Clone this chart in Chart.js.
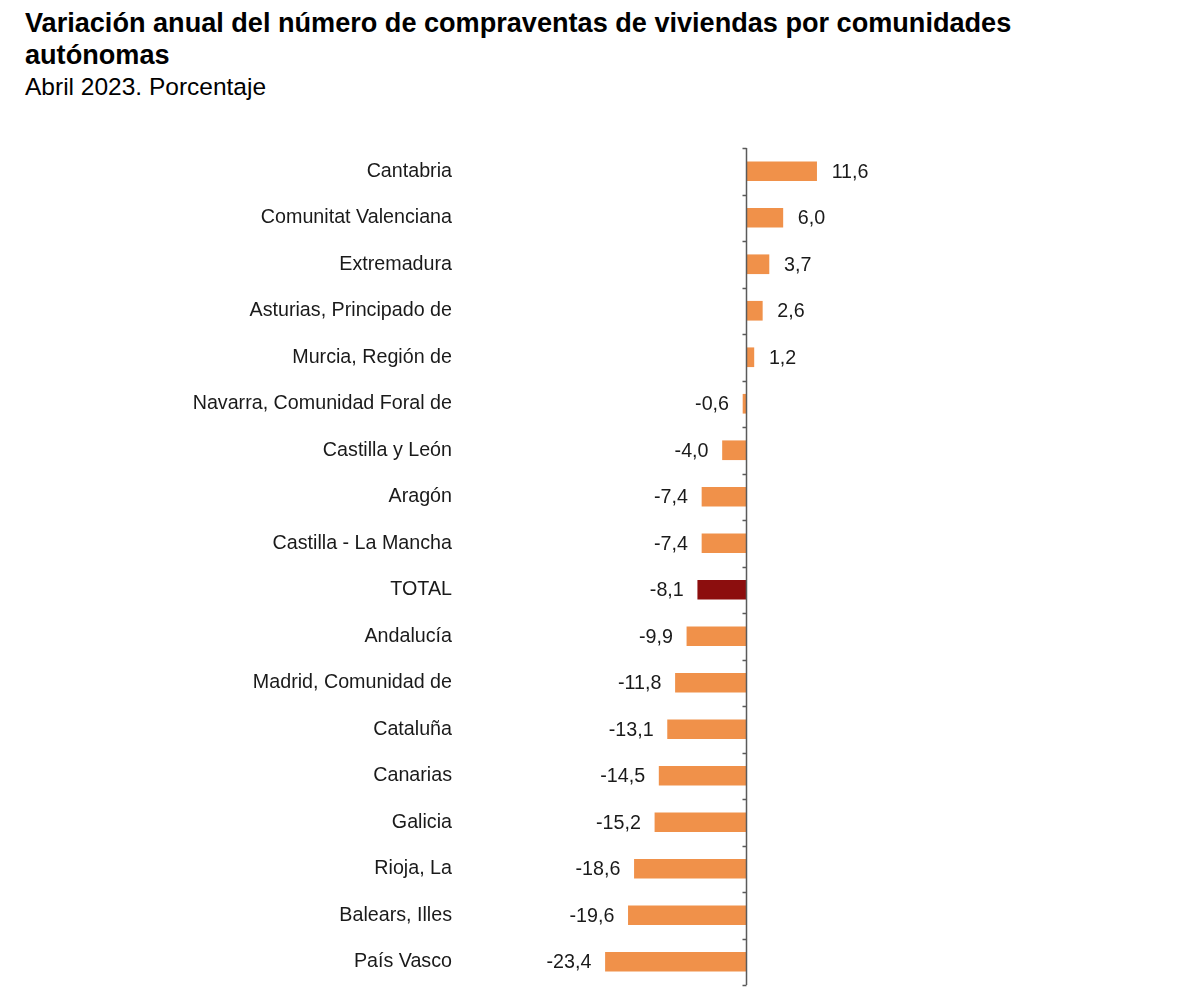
<!DOCTYPE html>
<html lang="es">
<head>
<meta charset="utf-8">
<title>Compraventas de viviendas por comunidades</title>
<script src="https://cdn.jsdelivr.net/npm/chart.js@4.4.1/dist/chart.umd.min.js"></script>
<style>
  html, body { margin: 0; padding: 0; background: #fff; }
  body { width: 1200px; height: 1007px; position: relative; overflow: hidden;
         font-family: "Liberation Sans", Arial, sans-serif; color: #000; }
  .title { position: absolute; left: 25px; top: 7px; font-size: 27.1px; font-weight: bold; line-height: 32px; }
  .subtitle { position: absolute; left: 25px; top: 72px; font-size: 24.5px; line-height: 30px; }
  #chart { position: absolute; left: 0; top: 0; }
</style>
</head>
<body>
<div class="title">Variación anual del número de compraventas de viviendas por comunidades<br>autónomas</div>
<div class="subtitle">Abril 2023. Porcentaje</div>
<canvas id="chart" width="1200" height="1007"></canvas>
<script>
// ─── Data ────────────────────────────────────────────────────
const regions = [
  'Cantabria', 'Comunitat Valenciana', 'Extremadura', 'Asturias, Principado de',
  'Murcia, Región de', 'Navarra, Comunidad Foral de', 'Castilla y León', 'Aragón',
  'Castilla - La Mancha', 'TOTAL', 'Andalucía', 'Madrid, Comunidad de',
  'Cataluña', 'Canarias', 'Galicia', 'Rioja, La', 'Balears, Illes', 'País Vasco'
];
const variation = [11.6, 6.0, 3.7, 2.6, 1.2, -0.6, -4.0, -7.4, -7.4, -8.1,
                   -9.9, -11.8, -13.1, -14.5, -15.2, -18.6, -19.6, -23.4];

const ORANGE = '#f0914a';
const TOTAL_RED = '#8c0e0e';
const FONT = '"Liberation Sans", Arial, sans-serif';

const barColors = regions.map((r) => (r === 'TOTAL' ? TOTAL_RED : ORANGE));
const fmt = (v) => v.toFixed(1).replace('.', ',');

// ─── Zero axis with category ticks ───────────────────────────
const zeroAxis = {
  id: 'zeroAxis',
  afterDatasetsDraw(chart) {
    const { ctx, chartArea, scales } = chart;
    const x0 = Math.round(scales.x.getPixelForValue(0)) - 0.5;
    ctx.save();
    ctx.strokeStyle = '#5a5a5a';
    ctx.lineWidth = 1.5;
    ctx.beginPath();
    ctx.moveTo(x0, chartArea.top);
    ctx.lineTo(x0, chartArea.bottom);
    for (let i = 0; i <= regions.length; i++) {
      const y = Math.round(scales.y.getPixelForValue(i - 0.5)) + 0.5;
      ctx.moveTo(x0 - 4, y);
      ctx.lineTo(x0, y);
    }
    ctx.stroke();
    ctx.restore();
  },
};

// ─── Value labels ────────────────────────────────────────────
const valueLabels = {
  id: 'valueLabels',
  afterDatasetsDraw(chart) {
    const { ctx } = chart;
    const meta = chart.getDatasetMeta(0);
    ctx.save();
    ctx.font = `19.7px ${FONT}`;
    ctx.fillStyle = '#1a1a1a';
    ctx.textBaseline = 'middle';
    meta.data.forEach((bar, i) => {
      const v = variation[i];
      if (v >= 0) {
        ctx.textAlign = 'left';
        ctx.fillText(fmt(v), bar.x + 15, bar.y + 1);
      } else {
        ctx.textAlign = 'right';
        ctx.fillText(fmt(v), bar.x - 14, bar.y + 1);
      }
    });
    ctx.restore();
  },
};

// big tick padding inflates the axis' vertical padding, so keep it small
// and let the value range reach to the left instead
const AXIS_W = 457;

new Chart(document.getElementById('chart'), {
  type: 'bar',
  data: {
    labels: regions,
    datasets: [{
      data: variation,
      backgroundColor: barColors,
      borderWidth: 0,
      barThickness: 19,
    }],
  },
  options: {
    indexAxis: 'y',
    responsive: false,
    animation: false,
    layout: { padding: { top: 148, bottom: 22, left: 0, right: 212 } },
    plugins: {
      legend: { display: false },
      tooltip: { enabled: false },
    },
    scales: {
      x: {
        display: false,
        min: -48,
        max: 40,
      },
      y: {
        grid: { display: false, drawTicks: false },
        border: { display: false },
        ticks: {
          color: '#1a1a1a',
          font: { family: FONT, size: 19.7 },
          padding: AXIS_W - 452,
          autoSkip: false,
        },
        afterFit(scale) { scale.width = AXIS_W; },
      },
    },
  },
  plugins: [zeroAxis, valueLabels],
});
</script>
</body>
</html>
